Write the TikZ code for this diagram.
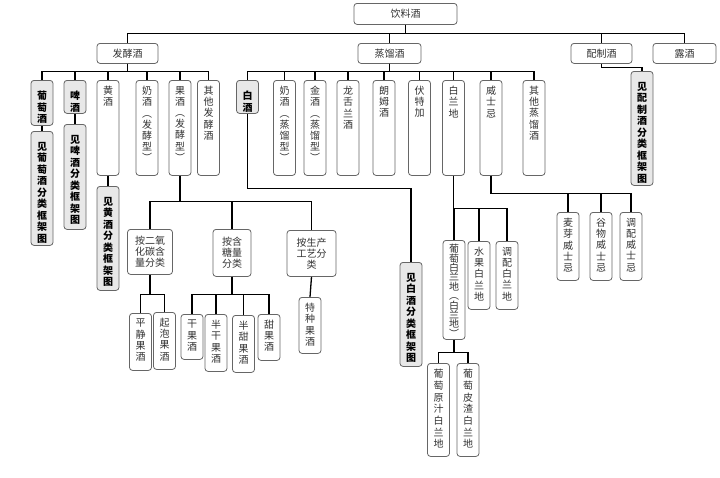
\documentclass[tikz,border=0pt]{standalone}
\usepackage{fontspec}
\setmainfont{Noto Sans CJK SC}
\usetikzlibrary{positioning}
\tikzset{
  bx/.style={draw=black!60,line width=0.8pt,rounded corners=3pt,fill=white,inner sep=0pt,anchor=north},
  hd/.style={bx,minimum width=61pt,minimum height=20pt,text=black!80,font=\fontsize{10}{11}\selectfont},
  ct/.style={bx,align=center,text=black!80,font=\fontsize{10}{11}\selectfont},
  vb/.style={bx,minimum width=22pt},
  rf/.style={vb,fill=black!9},
  vl/.style={anchor=north,yshift=-6pt,align=center,inner sep=0pt,text=black!80,font=\fontsize{10}{11.2}\selectfont},
  rl/.style={vl,yshift=-5pt,text=black,font=\bfseries\fontsize{10}{11.5}\selectfont},
  conn/.style={line width=1.3pt,black}
}
\begin{document}
\begin{tikzpicture}[x=1pt,y=-1pt]
\useasboundingbox (0,0) rectangle (720,477);
% top levels
\node[hd,minimum width=103pt,minimum height=21pt] (root) at (405.5,3) {饮料酒};
\node[hd] (fj) at (127.5,43) {发酵酒};
\node[hd,minimum width=63pt] (zl) at (389.5,43) {蒸馏酒};
\node[hd] (pz) at (601.5,43) {配制酒};
\node[hd,minimum width=63pt] (lj) at (684.5,43) {露酒};
% fermented
\node[rf,minimum height=45pt,label={[rl]north:{葡\\萄\\酒}}] (ptj) at (42,80) {};
\node[rf,minimum height=33pt,label={[rl]north:{啤\\酒}}] (pij) at (75,80) {};
\node[vb,minimum height=95pt,label={[vl]north:{黄\\酒}}] (hj) at (108,80) {};
\node[vb,minimum height=95pt,label={[vl]north:{奶\\酒\\︵\\发\\酵\\型\\︶}}] (nja) at (147,80) {};
\node[vb,minimum height=95pt,label={[vl]north:{果\\酒\\︵\\发\\酵\\型\\︶}}] (gj) at (180,80) {};
\node[vb,minimum height=95pt,label={[vl]north:{其\\他\\发\\酵\\酒}}] (qta) at (208.5,80) {};
\node[rf,minimum height=114pt,label={[rl]north:{见\\葡\\萄\\酒\\分\\类\\框\\架\\图}}] (jptj) at (42,131) {};
\node[rf,minimum height=105pt,label={[rl]north:{见\\啤\\酒\\分\\类\\框\\架\\图}}] (jpij) at (75,124) {};
\node[rf,minimum height=104pt,label={[rl]north:{见\\黄\\酒\\分\\类\\框\\架\\图}}] (jhj) at (108,186) {};
% fruit wine
\node[ct,minimum width=45pt,minimum height=45pt] (ec) at (150,229) {按二氧\\化碳含\\量分类};
\node[ct,minimum width=38pt,minimum height=47pt] (hty) at (232,229) {按含\\糖量\\分类};
\node[ct,minimum width=49pt,minimum height=46pt] (scgy) at (311.5,230) {按生产\\工艺分\\类};
\node[vb,minimum height=57pt,label={[vl]north:{平\\静\\果\\酒}}] (pjgj) at (140.5,313) {};
\node[vb,minimum height=57pt,label={[vl]north:{起\\泡\\果\\酒}}] (qpgj) at (164.5,312) {};
\node[vb,minimum height=45pt,label={[vl]north:{干\\果\\酒}}] (ggj) at (192,314) {};
\node[vb,minimum height=57pt,label={[vl]north:{半\\干\\果\\酒}}] (bggj) at (216,314) {};
\node[vb,minimum height=57pt,label={[vl]north:{半\\甜\\果\\酒}}] (btgj) at (243.5,315) {};
\node[vb,minimum height=46pt,label={[vl]north:{甜\\果\\酒}}] (tgj) at (269,314) {};
\node[vb,minimum height=56pt,label={[vl]north:{特\\种\\果\\酒}}] (tzgj) at (310,297) {};
% distilled
\node[rf,minimum height=33pt,label={[rl]north:{白\\酒}}] (bj) at (247.5,80) {};
\node[vb,minimum height=95pt,label={[vl]north:{奶\\酒\\︵\\蒸\\馏\\型\\︶}}] (njb) at (284.5,80) {};
\node[vb,minimum height=95pt,label={[vl]north:{金\\酒\\︵\\蒸\\馏\\型\\︶}}] (jj) at (315,80) {};
\node[vb,minimum height=95pt,label={[vl]north:{龙\\舌\\兰\\酒}}] (lsl) at (348,80) {};
\node[vb,minimum height=95pt,label={[vl]north:{朗\\姆\\酒}}] (lmj) at (384,80) {};
\node[vb,minimum height=95pt,label={[vl]north:{伏\\特\\加}}] (ftj) at (419.5,80) {};
\node[vb,minimum height=95pt,label={[vl]north:{白\\兰\\地}}] (bld) at (453.5,80) {};
\node[vb,minimum height=95pt,label={[vl]north:{威\\士\\忌}}] (wsj) at (491,80) {};
\node[vb,minimum height=95pt,label={[vl]north:{其\\他\\蒸\\馏\\酒}}] (qtb) at (534,80) {};
\node[rf,minimum height=104pt,label={[rl]north:{见\\白\\酒\\分\\类\\框\\架\\图}}] (jbj) at (411,262) {};
% brandy
\node[vb,minimum height=99pt,label={[vl,yshift=2pt,font=\fontsize{10}{9.4}\selectfont]north:{葡\\萄\\白\\兰\\地\\︵\\白\\兰\\地\\︶}}] (ptbld) at (454,240) {};
\node[vb,minimum height=68pt,label={[vl]north:{水\\果\\白\\兰\\地}}] (sgbld) at (479,241) {};
\node[vb,minimum height=68pt,label={[vl]north:{调\\配\\白\\兰\\地}}] (tpbld) at (507,241) {};
\node[vb,minimum height=93pt,label={[vl,font=\fontsize{10}{11.7}\selectfont]north:{葡\\萄\\原\\汁\\白\\兰\\地}}] (yzbld) at (438.5,363) {};
\node[vb,minimum height=93pt,label={[vl,font=\fontsize{10}{11.7}\selectfont]north:{葡\\萄\\皮\\渣\\白\\兰\\地}}] (pzbld) at (468,363) {};
% whisky
\node[vb,minimum height=68pt,label={[vl]north:{麦\\芽\\威\\士\\忌}}] (myw) at (568,212) {};
\node[vb,minimum height=68pt,label={[vl]north:{谷\\物\\威\\士\\忌}}] (gww) at (601,212) {};
\node[vb,minimum height=68pt,label={[vl]north:{调\\配\\威\\士\\忌}}] (tpw) at (631,212) {};
% compounded
\node[rf,minimum height=114pt,label={[rl]north:{见\\配\\制\\酒\\分\\类\\框\\架\\图}}] (jpzj) at (642,71) {};
% connectors
\foreach \c in {fj,zl,pz,lj} \draw[conn] (root.south) -- ++(0,9) -| (\c.north);
\foreach \c in {ptj,pij,hj,nja,gj,qta} \draw[conn] (fj.south) -- ++(0,8) -| (\c.north);
\foreach \c in {bj,njb,jj,lsl,lmj,ftj,bld,wsj,qtb} \draw[conn] (zl.south) -- ++(0,8) -| (\c.north);
\draw[conn] (ptj.south) -- (jptj.north);
\draw[conn] (pij.south) -- (jpij.north);
\draw[conn] (hj.south) -- (jhj.north);
\foreach \c in {ec,hty,scgy} \draw[conn] (gj.south) -- ++(0,26) -| (\c.north);
\foreach \c in {pjgj,qpgj} \draw[conn] (ec.south) -- ++(0,20) -| (\c.north);
\foreach \c in {ggj,bggj,btgj,tgj} \draw[conn] (hty.south) -- ++(0,18) -| (\c.north);
\draw[conn] (scgy.south) -- (tzgj.north);
\draw[conn] (bj.south) -- ++(0,75) -| (jbj.north);
\foreach \c in {ptbld,sgbld,tpbld} \draw[conn] (bld.south) -- ++(0,33) -| (\c.north);
\foreach \c in {yzbld,pzbld} \draw[conn] (ptbld.south) -- ++(0,13) -| (\c.north);
\foreach \c in {myw,gww,tpw} \draw[conn] (wsj.south) -- ++(0,18) -| (\c.north);
\draw[conn] (pz.south) -- ++(0,4) -| (jpzj.north);
\end{tikzpicture}
\end{document}
